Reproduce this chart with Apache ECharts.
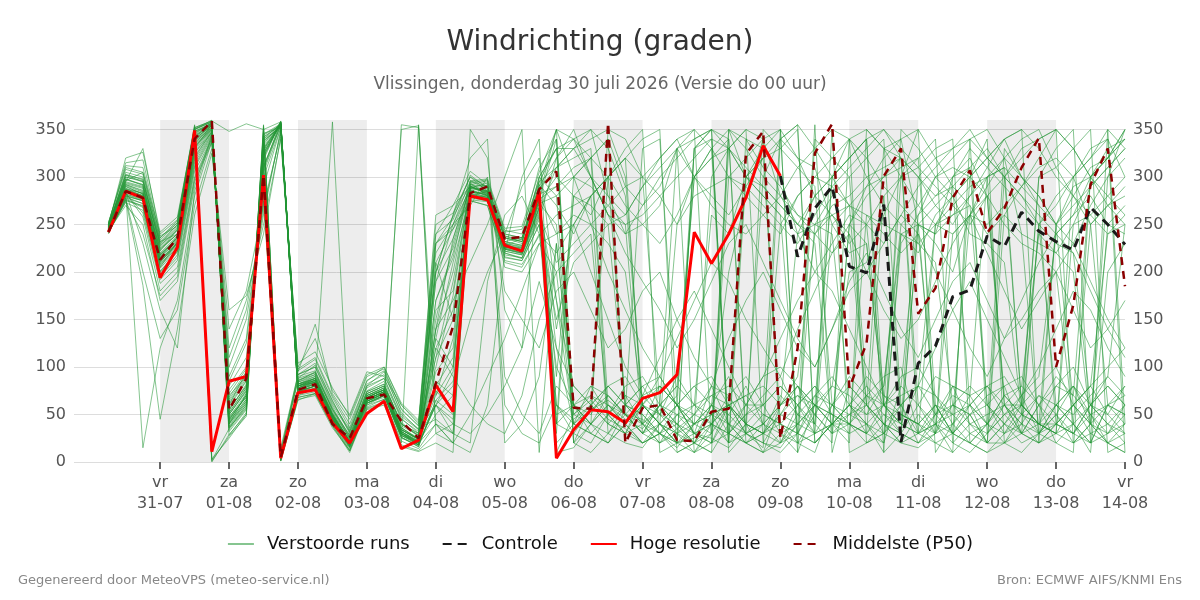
<!DOCTYPE html>
<html>
<head>
<meta charset="UTF-8">
<title>Windrichting (graden)</title>
<script src="https://cdn.jsdelivr.net/npm/echarts@6/dist/echarts.min.js"></script>
<style>
  html, body { margin: 0; padding: 0; background: #fff; }
  #main { width: 1200px; height: 600px; }
</style>
</head>
<body>
<div id="main"></div>
<script>
// tijdas: eerste stap do 30-07 06 uur, elke 6 uur
const startTime = Date.UTC(2026, 6, 30, 6);
const stepHours = 6;
const axisStart = Date.UTC(2026, 6, 29, 18);
const axisEnd = Date.UTC(2026, 7, 14, 0);
const firstTickDay = Date.UTC(2026, 6, 31);
const tickDays = 15;
const dayNames = ['zo', 'ma', 'di', 'wo', 'do', 'vr', 'za'];
const shadedDays = ['2026-07-31', '2026-08-02', '2026-08-04', '2026-08-06', '2026-08-08', '2026-08-10', '2026-08-12'];

// hoge resolutie loopt tot 09-08 00 uur
const hres = [242,285,278, 194,226,349,11, 85,90,302,4, 73,76,41,20, 51,64,14,23, 81,53,280,276,
  228,222,285,4, 34,55,53,41, 67,73,92,242, 209,240,278,333, 301];

// controle zichtbaar vanaf 09-08 00 uur (index 39)
const controlStart = 39;
const control = [301, 216,267,290, 206,199,271,21, 104,122,174,181, 238,227,263,243, 232,223,268,250, 229];

const p50 = [242,285,278, 213,236,340,359, 55,88,302,5, 76,82,40,25, 67,71,43,25, 83,143,283,290,
  235,237,287,306, 57,56,357,20, 57,60,23,22, 53,56,324,348, 25,120,325,356, 78,125,301,330,
  156,183,278,307, 241,267,310,341, 100,165,292,330, 185];

// verstoorde runs (50 leden)
const members = [
  [248,290,282,205,232,338,352,40,72,330,6,78,85,48,18,66,74,30,22,110,190,285,278,230,222,280,60,45,60,300,320,40,55,35,20,60,200,280,340,20,40,355,10,80,60,330,340,250,240,300,310,60,80,30,250,270,300,320,350,40],
  [244,280,275,215,238,330,355,55,80,310,358,82,90,52,25,70,78,38,28,150,230,290,282,225,220,272,250,60,40,20,55,330,340,60,30,25,15,40,60,350,320,280,260,240,60,40,20,15,30,80,70,300,320,240,30,60,40,10,200,230],
  [250,295,290,222,245,345,2,35,60,340,352,75,80,42,15,62,70,25,18,60,40,30,50,80,120,300,330,330,350,280,240,250,270,330,10,40,70,90,60,30,20,50,80,200,210,260,300,350,10,40,70,80,90,60,40,30,250,290,310,330],
  [242,275,270,198,225,320,348,60,95,300,4,70,78,45,22,72,80,40,30,200,260,300,285,220,215,260,40,30,55,70,50,45,30,20,25,60,90,40,300,340,355,20,40,60,30,20,80,260,280,300,330,310,290,270,250,230,220,60,40,20],
  [246,300,295,230,250,350,358,45,70,345,356,85,95,55,28,75,85,45,32,240,270,290,285,228,235,300,330,20,10,30,60,80,50,40,20,10,350,300,290,270,250,230,30,50,70,90,100,30,20,10,340,320,300,280,250,60,80,50,20,10],
  [240,283,262,188,205,300,340,80,110,280,12,88,102,65,30,80,95,50,35,45,30,275,270,215,212,250,150,210,230,250,60,50,30,15,40,300,330,350,20,50,80,60,40,30,260,250,240,220,260,280,300,340,20,30,60,80,70,300,320,340],
  [252,310,305,240,255,355,3,25,50,355,1,65,72,40,12,60,66,22,14,40,20,10,60,220,300,340,10,15,40,60,45,35,60,80,300,320,340,30,20,10,30,70,90,60,40,10,350,330,300,280,240,230,210,50,30,40,60,80,100,120],
  [245,288,280,212,230,332,350,50,75,325,356,80,88,50,20,68,76,34,24,130,210,280,275,232,228,275,300,280,260,300,320,340,350,10,20,40,60,30,15,340,320,310,250,220,230,60,70,80,50,30,20,40,330,300,280,250,60,40,20,30],
  [243,270,250,170,190,290,345,100,150,260,350,98,110,70,40,85,100,60,40,230,245,275,270,210,205,240,220,250,280,30,50,70,80,60,330,350,20,40,30,60,90,240,270,280,300,310,320,60,40,20,10,30,50,70,30,20,40,60,80,60],
  [247,292,285,225,240,340,355,48,68,335,5,76,82,46,16,64,72,28,20,95,120,282,280,238,232,285,10,50,65,45,35,20,30,50,60,40,20,340,330,300,240,200,230,260,250,70,50,40,30,300,320,280,250,230,220,200,40,20,350,330],
  [249,320,326,242,258,352,359,348,356,350,358,72,76,44,20,64,70,26,16,65,50,292,296,242,245,295,330,340,350,330,280,60,40,30,10,20,50,80,40,30,10,340,320,300,80,60,50,40,60,30,20,10,20,50,300,310,330,350,10,20],
  [241,276,268,195,215,310,342,70,90,295,9,90,96,58,26,74,82,40,28,200,260,320,340,20,40,90,230,60,80,50,70,40,20,35,50,70,60,30,20,15,40,60,300,340,20,40,60,80,70,50,260,250,270,290,310,320,300,250,60,50],
  [250,298,292,218,236,345,357,38,62,338,353,80,84,358,22,70,76,32,20,140,200,288,284,236,230,300,280,50,40,350,340,300,280,250,300,330,20,30,50,40,20,10,60,90,70,50,30,250,240,260,270,60,30,40,70,50,20,40,300,350],
  [244,284,15,120,170,280,338,120,170,250,340,95,145,72,45,90,98,55,38,240,255,302,288,222,218,268,120,80,60,40,30,70,50,90,60,260,240,300,330,350,20,30,40,60,50,80,240,230,210,60,50,20,40,70,90,240,260,280,250,240],
  [246,295,330,238,248,348,356,42,66,330,355,84,92,48,24,72,80,42,26,60,45,280,285,226,226,282,290,310,320,340,50,30,40,20,330,340,30,20,10,60,80,40,350,10,20,30,230,260,300,320,340,30,50,60,40,80,100,60,50,80],
  [245,282,276,208,228,328,349,52,78,320,358,80,86,50,21,66,74,32,22,120,90,60,40,30,70,150,200,40,55,65,50,40,60,50,30,80,40,20,10,30,40,60,50,40,30,280,300,310,330,340,20,40,70,80,60,40,30,20,60,70],
  [248,305,300,232,250,350,360,32,55,348,3,70,74,40,14,58,66,20,355,30,20,288,294,244,240,310,340,20,60,80,90,60,40,250,280,290,300,320,340,350,10,60,50,30,40,60,90,100,70,40,20,10,30,60,300,330,350,20,60,50],
  [243,278,200,130,160,270,330,140,180,270,345,100,130,75,50,95,90,60,42,220,250,288,286,205,200,230,240,260,250,230,200,60,40,30,20,50,60,70,80,60,240,250,260,270,60,40,30,20,50,80,70,40,20,10,30,60,50,70,90,250],
  [247,288,283,214,234,336,353,44,70,328,357,78,86,46,18,64,72,30,20,160,180,290,282,232,236,285,60,30,20,50,80,90,60,330,340,350,10,30,40,20,50,70,60,50,40,20,240,250,230,200,260,300,310,60,40,30,40,250,270,280],
  [251,315,318,236,252,352,359,28,52,352,2,68,72,38,10,56,62,355,352,40,30,296,298,246,248,305,350,340,320,300,60,50,30,10,20,30,330,350,340,280,250,240,260,230,250,280,50,40,60,30,50,70,80,90,60,20,10,300,330,340],
  [244,286,279,210,231,334,351,58,85,315,8,86,92,56,24,70,78,36,25,170,220,286,281,226,222,276,340,60,70,60,40,20,40,60,80,90,60,40,10,20,30,250,280,300,320,340,60,20,40,10,30,40,60,80,240,220,200,40,30,60],
  [242,278,272,200,222,318,346,66,92,305,355,74,80,44,19,62,70,28,20,60,30,20,190,260,280,240,100,60,50,80,60,40,80,60,40,50,20,300,320,40,30,60,80,70,50,60,40,300,320,330,350,320,300,60,40,40,60,30,20,40],
  [249,300,296,226,244,346,357,36,58,342,354,78,82,48,20,66,74,30,18,190,250,296,287,238,234,292,270,240,280,300,320,300,60,40,30,20,30,50,70,90,50,40,20,340,320,290,270,250,40,50,60,20,20,40,250,280,300,330,340,300],
  [245,284,230,160,120,285,343,90,130,290,352,92,100,62,34,82,92,52,34,60,80,278,275,218,215,255,320,350,300,260,250,30,60,40,20,10,40,60,60,80,60,40,300,320,340,60,30,20,30,240,260,280,70,50,40,60,80,40,20,10],
  [246,292,286,220,238,340,354,46,68,332,356,76,84,46,17,64,72,30,19,140,170,210,250,300,350,10,230,50,70,50,30,40,30,20,330,350,340,20,30,40,60,80,50,40,20,30,60,80,250,260,280,300,310,290,270,40,30,50,60,40],
  [243,273,265,192,212,306,340,76,100,285,15,92,104,64,32,80,88,48,34,200,235,294,280,216,212,250,20,40,30,20,40,60,90,60,50,40,30,20,40,250,280,300,290,270,260,240,220,240,50,60,40,20,300,320,340,350,20,30,40,60],
  [250,302,298,228,246,350,358,34,56,346,352,74,78,42,16,62,68,350,354,70,100,290,291,240,236,288,310,320,330,60,40,20,30,40,60,70,80,60,40,60,70,50,30,250,230,60,40,30,50,70,60,80,50,30,20,250,280,310,320,350],
  [244,280,275,206,226,326,348,62,88,310,357,84,90,52,22,68,76,34,23,120,160,280,277,224,220,268,170,40,80,70,50,30,50,70,300,320,330,300,280,260,30,20,40,60,90,70,60,30,40,60,50,20,260,240,230,220,250,260,280,300],
  [248,293,288,216,233,342,356,40,64,336,354,76,82,46,18,64,72,30,18,230,250,270,300,90,50,30,80,60,40,30,20,15,40,60,30,20,60,40,30,50,40,30,60,80,60,40,20,30,60,30,300,320,340,350,20,40,60,80,240,250],
  [241,274,240,175,195,295,336,110,160,265,348,96,108,68,36,86,96,56,38,260,270,306,292,212,208,238,260,270,280,300,330,350,10,20,30,40,60,300,320,330,350,20,40,60,40,30,20,50,30,60,80,60,40,30,60,90,70,50,30,50],
  [247,297,292,224,240,344,355,43,66,334,358,82,88,50,21,70,78,36,24,75,55,283,284,230,227,278,40,60,40,70,50,30,20,50,40,60,40,20,30,70,50,30,40,20,350,330,320,300,280,290,60,40,70,50,40,30,60,80,50,30],
  [245,286,281,211,229,330,350,54,82,318,359,80,88,48,21,68,76,36,24,210,245,290,283,226,223,272,280,300,320,40,60,80,90,60,30,40,30,60,90,100,80,50,30,40,70,60,300,320,340,20,40,50,60,30,20,40,30,60,90,70],
  [252,308,303,234,252,354,1,27,48,354,2,66,70,36,12,55,60,16,11,20,10,350,320,160,120,190,120,40,30,50,70,60,40,20,40,60,50,30,350,330,310,290,60,40,30,50,40,30,250,270,290,300,60,40,20,30,20,40,60,80],
  [244,282,277,208,226,325,347,60,86,312,354,82,86,48,20,66,74,32,21,50,70,280,279,225,221,266,50,60,30,20,40,60,80,60,40,30,350,330,300,280,260,250,240,60,80,40,30,60,90,80,40,30,60,60,80,100,60,40,250,270],
  [246,290,282,217,235,338,354,50,74,326,355,78,84,48,20,66,74,30,21,130,100,285,281,232,228,280,350,20,40,60,50,30,60,80,60,50,40,30,40,60,80,60,40,250,280,300,310,320,60,50,30,20,40,60,40,30,300,320,340,10],
  [242,276,186,45,140,260,325,160,175,240,342,104,116,78,48,92,100,62,44,250,262,300,290,180,150,120,180,200,160,120,140,180,200,150,110,80,130,170,200,160,120,100,140,190,220,180,140,110,150,190,210,170,130,150,180,200,160,120,140,170],
  [249,303,297,230,247,351,358,36,57,344,355,74,80,44,16,62,70,26,16,85,70,292,290,240,236,295,310,330,340,350,300,60,40,20,10,30,60,70,50,40,30,20,40,50,60,80,250,270,300,310,300,280,60,30,40,250,290,300,320,350],
  [245,287,280,210,230,332,350,56,80,322,357,80,86,50,22,66,74,32,22,230,258,292,285,229,225,274,40,300,320,340,290,270,300,320,340,350,330,300,280,260,240,280,300,320,340,10,30,250,270,290,310,330,300,280,260,240,260,300,320,340],
  [250,296,305,232,240,347,356,41,64,338,353,74,80,44,18,60,70,28,18,170,215,296,290,236,232,290,350,300,250,200,160,120,90,130,170,210,190,150,120,90,140,180,220,240,200,160,130,150,190,230,260,220,180,140,170,200,230,190,150,120],
  [243,279,272,201,221,315,345,68,95,300,352,88,94,56,28,74,82,40,30,80,110,276,274,222,218,262,210,230,250,270,290,300,320,340,350,330,300,280,260,240,280,300,320,340,350,330,300,270,250,240,260,290,320,340,350,310,280,260,240,260],
  [247,294,289,219,236,342,355,44,70,330,357,78,84,46,18,66,72,30,20,40,20,50,90,130,180,230,200,220,240,50,30,20,30,60,80,60,30,50,60,80,60,30,250,270,290,300,320,30,40,30,50,60,40,20,30,50,80,60,40,30],
  [244,283,258,180,200,298,338,85,125,275,10,92,100,60,32,78,88,46,30,110,150,287,280,220,214,258,30,280,300,260,240,270,290,330,350,20,300,290,270,250,230,260,290,310,330,350,320,300,270,250,280,310,340,300,280,250,230,270,300,320],
  [248,298,291,223,240,343,356,40,62,340,356,76,82,46,18,64,72,28,18,140,235,289,285,236,232,290,320,340,300,260,220,190,160,120,150,190,230,250,210,170,130,100,140,180,200,230,260,240,200,160,120,90,130,170,210,240,220,180,140,110],
  [245,285,280,213,231,334,351,52,78,322,358,82,88,50,22,68,76,34,24,70,130,281,279,228,224,276,140,250,280,300,270,250,230,260,300,330,350,340,310,290,260,240,220,250,290,320,340,350,320,290,270,240,260,290,320,350,330,300,270,250],
  [251,312,310,236,254,352,0,29,50,350,1,68,72,38,12,57,63,18,12,30,40,294,297,60,30,20,60,40,60,80,60,40,20,30,50,80,70,40,30,50,70,60,40,40,30,60,80,60,30,40,60,40,30,50,70,60,40,20,30,40],
  [242,277,269,196,218,312,344,72,98,298,6,86,94,54,26,72,80,40,28,190,225,290,284,224,219,264,310,330,300,280,260,290,320,340,300,270,250,240,260,280,310,330,350,340,300,270,250,230,250,280,300,320,340,350,330,300,280,250,270,290],
  [249,302,295,228,244,348,357,37,60,342,355,74,80,44,17,62,70,26,17,65,85,150,200,240,290,320,170,80,60,40,30,60,50,30,40,50,60,40,30,20,60,80,60,40,60,30,50,40,20,30,60,80,60,40,30,50,30,60,80,60],
  [244,281,275,204,224,322,347,64,90,308,355,80,86,50,22,68,76,34,24,210,150,282,278,224,220,268,90,280,270,250,260,290,310,330,300,280,260,290,320,340,355,330,300,270,250,230,260,290,310,330,340,350,320,300,270,250,270,290,310,330],
  [246,291,284,218,236,340,354,47,72,328,356,80,84,48,20,66,74,32,20,60,95,284,282,230,226,281,240,250,200,150,100,70,110,150,180,140,100,60,90,130,170,200,180,140,100,60,40,80,120,160,190,150,110,70,100,140,180,160,120,90],
  [245,287,283,212,232,336,352,50,76,324,358,82,88,50,22,68,76,34,24,100,175,286,280,228,224,276,290,300,290,270,250,260,280,300,320,340,330,310,290,270,250,280,300,320,340,350,330,310,290,270,250,280,300,330,340,350,330,300,280,260]
];

const HOUR = 3600 * 1000;
const DAY = 24 * HOUR;
const timeAt = i => startTime + i * stepHours * HOUR;
const pad = n => (n < 10 ? '0' : '') + n;
const dayTicks = [];
for (let k = 0; k < tickDays; k++) dayTicks.push(firstTickDay + k * DAY);

const toPairs = (arr, offset) => arr.map((v, i) => [timeAt(i + (offset || 0)), v]);

const chart = echarts.init(document.getElementById('main'));

const series = [];
members.forEach(m => {
    series.push({
        name: 'Verstoorde runs',
        type: 'line',
        data: toPairs(m),
        symbol: 'none',
        silent: true,
        lineStyle: { color: 'rgba(34,150,52,0.55)', width: 1 },
        itemStyle: { color: 'rgba(34,150,52,0.55)' },
        z: 2
    });
});

series.push({
    name: 'Controle',
    type: 'line',
    data: toPairs(control, controlStart),
    symbol: 'none',
    silent: true,
    lineStyle: { color: '#1a1a1a', width: 3, type: [9, 6] },
    itemStyle: { color: '#1a1a1a' },
    z: 3
});

series.push({
    name: 'Hoge resolutie',
    type: 'line',
    data: toPairs(hres),
    symbol: 'none',
    silent: true,
    lineStyle: { color: '#ff0000', width: 3 },
    itemStyle: { color: '#ff0000' },
    z: 3,
    markArea: {
        silent: true,
        z: 1,
        itemStyle: { color: 'rgba(0,0,0,0.07)' },
        data: shadedDays.map(d => {
            const t = Date.parse(d + 'T00:00:00Z');
            return [{ xAxis: t }, { xAxis: t + DAY }];
        })
    }
});

series.push({
    name: 'Middelste (P50)',
    type: 'line',
    data: toPairs(p50),
    symbol: 'none',
    silent: true,
    lineStyle: { color: '#8b0000', width: 2.5, type: [8, 6] },
    itemStyle: { color: '#8b0000' },
    z: 4
});

const yAxisBase = {
    type: 'value',
    min: 0,
    max: 360,
    interval: 50,
    axisLine: { show: false },
    axisTick: { show: false },
    axisLabel: { color: '#555', fontSize: 16, showMaxLabel: false, margin: 8 }
};

chart.setOption({
    animation: false,
    textStyle: { fontFamily: 'DejaVu Sans' },
    title: [
        { text: 'Windrichting (graden)', left: 'center', top: 24,
          textStyle: { fontSize: 28, fontWeight: 'normal', color: '#333' } },
        { text: 'Vlissingen, donderdag 30 juli 2026 (Versie do 00 uur)', left: 'center', top: 71,
          textStyle: { fontSize: 17, fontWeight: 'normal', color: '#666' } },
        { text: 'Gegenereerd door MeteoVPS (meteo-service.nl)', left: 18, top: 574, padding: 0,
          textStyle: { fontSize: 13, fontWeight: 'normal', color: '#888' } },
        { text: 'Bron: ECMWF AIFS/KNMI Ens', right: 18, top: 574, padding: 0,
          textStyle: { fontSize: 13, fontWeight: 'normal', color: '#888' } }
    ],
    legend: {
        data: ['Verstoorde runs', 'Controle', 'Hoge resolutie', 'Middelste (P50)'],
        top: 530,
        left: 'center',
        itemWidth: 26,
        itemHeight: 14,
        itemGap: 32,
        itemStyle: { opacity: 0 },
        textStyle: { fontSize: 18, color: '#111', padding: [0, 0, 0, 8] },
        selectedMode: false
    },
    grid: { left: 74, right: 75, top: 120, bottom: 138 },
    xAxis: {
        type: 'value',
        min: axisStart,
        max: axisEnd,
        axisLine: { show: false },
        splitLine: { show: false },
        axisTick: {
            show: true,
            customValues: dayTicks,
            length: 7,
            lineStyle: { color: '#666', width: 2 }
        },
        axisLabel: {
            customValues: dayTicks,
            color: '#555',
            fontSize: 16,
            lineHeight: 21,
            margin: 10,
            formatter: v => {
                const d = new Date(v);
                return dayNames[d.getUTCDay()] + '\n' + pad(d.getUTCDate()) + '-' + pad(d.getUTCMonth() + 1);
            }
        }
    },
    yAxis: [
        Object.assign({}, yAxisBase, {
            position: 'left',
            splitLine: { show: true, showMaxLine: false, lineStyle: { color: '#dddddd', width: 1 } }
        }),
        Object.assign({}, yAxisBase, {
            position: 'right',
            splitLine: { show: false }
        })
    ],
    series: series
});
</script>
</body>
</html>
